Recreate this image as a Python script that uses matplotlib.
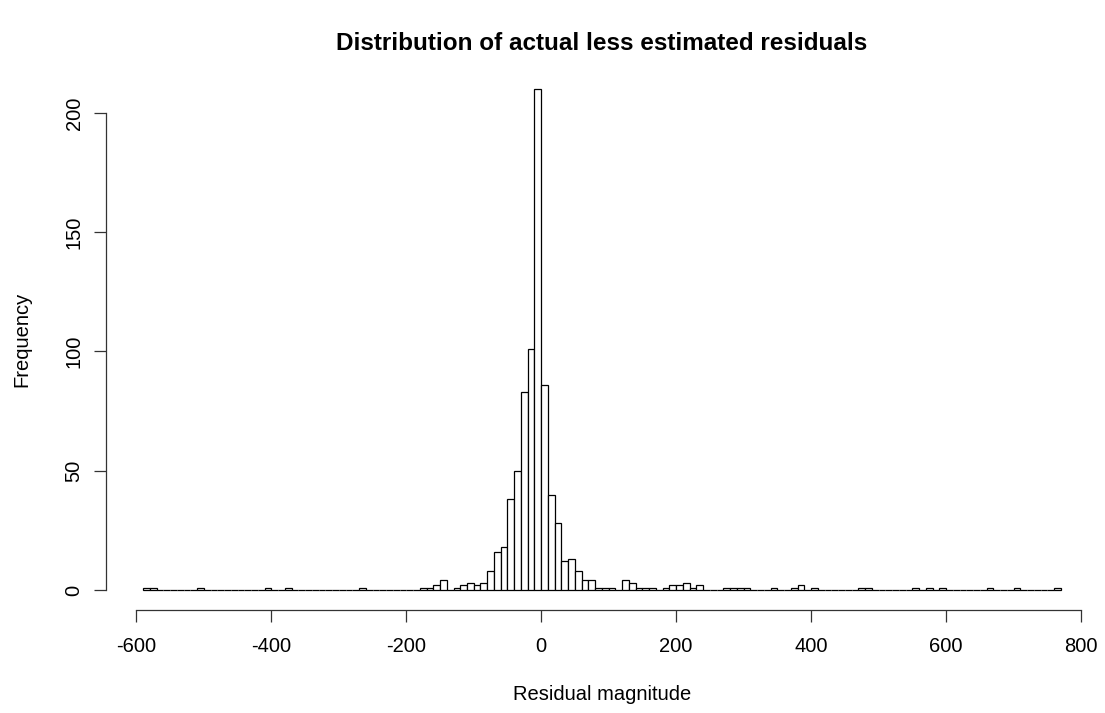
import numpy as np
import matplotlib
matplotlib.use("Agg")
import matplotlib.pyplot as plt

# histogram of residuals, bins of width 10 starting at -590
bin_start = -590
bin_width = 10
counts = [
    1, 1, 0, 0, 0, 0, 0, 0, 1,           # -590 .. -510
    0, 0, 0, 0, 0, 0, 0, 0, 0, 1,        # -500 .. -410
    0, 0, 1, 0, 0, 0, 0, 0, 0, 0,        # -400 .. -310
    0, 0, 0, 1, 0, 0, 0, 0, 0, 0,        # -300 .. -210
    0, 0, 1, 1, 2, 4, 0, 1, 2, 3,        # -200 .. -110
    2, 3, 8, 16, 18, 38, 50, 83, 101, 210,  # -100 .. -10
    86, 40, 28, 12, 13, 8, 4, 4, 1, 1,   # 0 .. 90
    1, 0, 4, 3, 1, 1, 1, 0, 1, 2,        # 100 .. 190
    2, 3, 1, 2, 0, 0, 0, 1, 1, 1,        # 200 .. 290
    1, 0, 0, 0, 1, 0, 0, 1, 2, 0,        # 300 .. 390
    1, 0, 0, 0, 0, 0, 0, 1, 1, 0,        # 400 .. 490
    0, 0, 0, 0, 0, 1, 0, 1, 0, 1,        # 500 .. 590
    0, 0, 0, 0, 0, 0, 1, 0, 0, 0,        # 600 .. 690
    1, 0, 0, 0, 0, 0, 1,                 # 700 .. 760
]
x_ticks = [-600, -400, -200, 0, 200, 400, 600, 800]
y_ticks = [0, 50, 100, 150, 200]

title = "Distribution of actual less estimated residuals"
x_label = "Residual magnitude"
y_label = "Frequency"

plt.rcParams["font.family"] = ["Liberation Sans", "DejaVu Sans"]

W, H = 1105, 713
fig = plt.figure(figsize=(W / 100, H / 100), dpi=100)

# plot region in pixels (R style, 4% padding around data range)
left_px, right_px = 106.4, 1097.5
top_px, bottom_px = 69.1, 610.0
ax = fig.add_axes([left_px / W, 1 - bottom_px / H,
                   (right_px - left_px) / W, (bottom_px - top_px) / H])

lefts = bin_start + bin_width * np.arange(len(counts))
ax.bar(lefts, counts, width=bin_width, align="edge",
       facecolor="white", edgecolor="black", linewidth=0.9)

x_lo, x_hi = bin_start, bin_start + bin_width * len(counts)
pad_x = 0.04 * (x_hi - x_lo)
ax.set_xlim(x_lo - pad_x, x_hi + pad_x)
pad_y = 0.04 * max(counts)
ax.set_ylim(-pad_y, max(counts) + pad_y)

for s in ["top", "right"]:
    ax.spines[s].set_visible(False)
ax.spines["bottom"].set_bounds(x_ticks[0], x_ticks[-1])
ax.spines["left"].set_bounds(y_ticks[0], y_ticks[-1])
for s in ["bottom", "left"]:
    ax.spines[s].set_color("#333333")
    ax.spines[s].set_linewidth(0.9)

ax.set_xticks(x_ticks)
ax.set_xticklabels([str(v) for v in x_ticks])
ax.set_yticks(y_ticks)
ax.set_yticklabels([str(v) for v in y_ticks], rotation=90, va="center")
ax.tick_params(axis="both", length=8.4, width=0.9, color="#333333",
               labelsize=14.5)
ax.tick_params(axis="x", pad=11)
ax.tick_params(axis="y", pad=8)

fig.text(602 / W, 1 - 44 / H, title, ha="center", va="center",
         fontsize=17.5, fontweight="bold")
fig.text(602 / W, 1 - 694 / H, x_label, ha="center", va="center",
         fontsize=14.5)
fig.text(22 / W, 1 - 339.5 / H, y_label, ha="center", va="center",
         rotation=90, fontsize=14.5)

fig.savefig("out.png", dpi=100, facecolor="white")
